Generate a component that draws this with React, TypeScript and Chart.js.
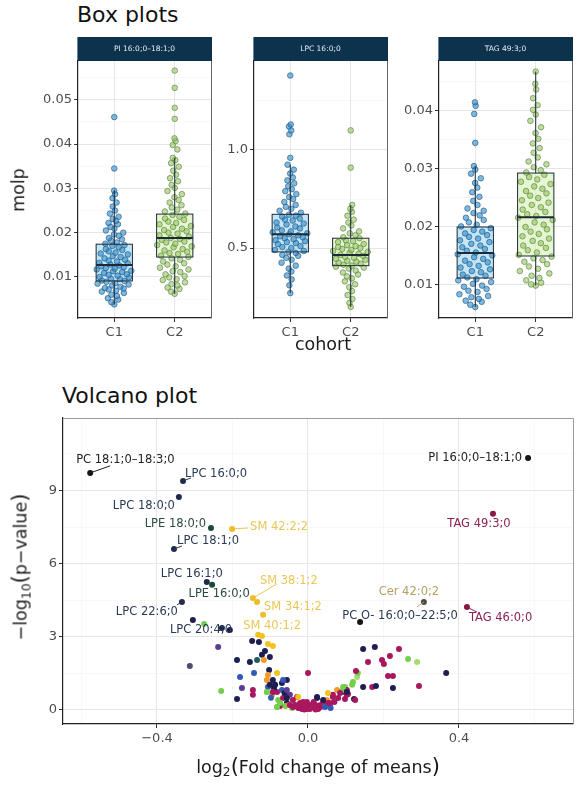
import React, { useEffect, useRef } from "react";
import { Chart, registerables } from "chart.js";
Chart.register(...registerables);

const FONT = "'DejaVu Sans', 'Liberation Sans', sans-serif";
const TICK_COLOR = "#4d4d4d";

// ---------------- Box plot data ----------------
const cohorts = ["C1", "C2"];
const stripTitles = ["PI 16:0;0–18:1;0", "LPC 16:0;0", "TAG 49:3;0"];

const p1C1 = [0.0038,0.0043,0.0049,0.0052,0.0057,0.0060,0.0064,0.0067,0.0069,0.0072,0.0074,0.0075,0.0078,0.0081,0.0083,0.0085,0.0086,0.0089,0.0091,0.0092,0.0095,0.0096,0.0099,0.0100,0.0103,0.0105,0.0106,0.0109,0.0111,0.0113,0.0114,0.0117,0.0119,0.0120,0.0122,0.0124,0.0126,0.0128,0.0131,0.0132,0.0135,0.0137,0.0139,0.0142,0.0145,0.0147,0.0151,0.0153,0.0155,0.0158,0.0161,0.0163,0.0167,0.0170,0.0172,0.0175,0.0178,0.0182,0.0185,0.0188,0.0193,0.0196,0.0200,0.0205,0.0209,0.0213,0.0219,0.0222,0.0227,0.0231,0.0236,0.0243,0.0250,0.0259,0.0268,0.0278,0.0287,0.0295,0.0345,0.0461];
const p1C2 = [0.0062,0.0067,0.0073,0.0076,0.0081,0.0084,0.0088,0.0093,0.0095,0.0099,0.0102,0.0106,0.0111,0.0113,0.0117,0.0121,0.0124,0.0128,0.0131,0.0135,0.0139,0.0142,0.0145,0.0148,0.0152,0.0154,0.0157,0.0160,0.0163,0.0167,0.0169,0.0172,0.0175,0.0178,0.0180,0.0184,0.0186,0.0188,0.0191,0.0194,0.0198,0.0200,0.0203,0.0206,0.0209,0.0213,0.0215,0.0219,0.0222,0.0225,0.0229,0.0232,0.0236,0.0240,0.0243,0.0248,0.0252,0.0257,0.0262,0.0268,0.0274,0.0280,0.0287,0.0294,0.0301,0.0308,0.0316,0.0323,0.0331,0.0340,0.0349,0.0357,0.0364,0.0369,0.0388,0.0398,0.0407,0.0413,0.0457,0.0482,0.0527,0.0566];
const p2C1 = [0.27,0.31,0.34,0.36,0.38,0.395,0.41,0.425,0.44,0.45,0.46,0.465,0.475,0.48,0.485,0.49,0.50,0.505,0.51,0.52,0.525,0.53,0.535,0.54,0.545,0.55,0.555,0.56,0.565,0.57,0.575,0.58,0.585,0.59,0.60,0.605,0.61,0.62,0.625,0.63,0.64,0.645,0.65,0.66,0.665,0.67,0.68,0.69,0.70,0.71,0.72,0.735,0.75,0.76,0.775,0.79,0.80,0.815,0.83,0.845,0.86,0.88,0.90,0.925,0.96,1.08,1.10,1.12,1.13,1.38];
const p2C2 = [0.20,0.22,0.24,0.26,0.28,0.30,0.315,0.33,0.345,0.355,0.365,0.375,0.385,0.395,0.40,0.405,0.41,0.415,0.42,0.425,0.43,0.435,0.44,0.445,0.45,0.455,0.46,0.465,0.47,0.475,0.48,0.485,0.49,0.495,0.50,0.505,0.51,0.515,0.52,0.53,0.535,0.54,0.55,0.555,0.565,0.575,0.585,0.60,0.615,0.63,0.645,0.665,0.685,0.70,0.72,0.91,1.10];
const p3C1 = [0.0062,0.0066,0.0071,0.0073,0.0076,0.0079,0.0081,0.0084,0.0088,0.0090,0.0093,0.0097,0.0099,0.0102,0.0105,0.0108,0.0110,0.0113,0.0116,0.0118,0.0122,0.0124,0.0127,0.0130,0.0133,0.0136,0.0139,0.0142,0.0145,0.0148,0.0151,0.0153,0.0156,0.0159,0.0162,0.0165,0.0168,0.0171,0.0174,0.0177,0.0180,0.0183,0.0186,0.0189,0.0192,0.0195,0.0198,0.0201,0.0204,0.0208,0.0212,0.0216,0.0220,0.0224,0.0228,0.0232,0.0238,0.0245,0.0252,0.0260,0.0268,0.0276,0.0284,0.0292,0.0299,0.0305,0.0345,0.0395,0.0409,0.0415];
const p3C2 = [0.0099,0.0101,0.0104,0.0108,0.0112,0.0116,0.0120,0.0124,0.0128,0.0132,0.0136,0.0140,0.0143,0.0146,0.0149,0.0152,0.0156,0.0160,0.0164,0.0168,0.0172,0.0176,0.0180,0.0184,0.0188,0.0192,0.0196,0.0200,0.0204,0.0208,0.0212,0.0216,0.0219,0.0222,0.0226,0.0230,0.0234,0.0238,0.0242,0.0246,0.0250,0.0254,0.0258,0.0262,0.0266,0.0270,0.0274,0.0278,0.0282,0.0286,0.0290,0.0294,0.0298,0.0303,0.0308,0.0313,0.0320,0.0328,0.0336,0.0344,0.0352,0.0362,0.0372,0.0383,0.0394,0.0402,0.0410,0.0422,0.0437,0.0447,0.0468];

// [lower whisker, Q1, median, Q3, upper whisker]
const p1C1Box = [0.0038, 0.0091, 0.0127, 0.0174, 0.0296];
const p1C2Box = [0.0062, 0.0145, 0.0188, 0.0242, 0.0369];
const p2C1Box = [0.27, 0.48, 0.57, 0.672, 0.925];
const p2C2Box = [0.20, 0.41, 0.465, 0.55, 0.72];
const p3C1Box = [0.0062, 0.0112, 0.0155, 0.0200, 0.0305];
const p3C2Box = [0.0099, 0.0150, 0.0217, 0.0293, 0.0468];

const p1MajorTicks = [0.01, 0.02, 0.03, 0.04, 0.05];
const p1MinorTicks = [0.005, 0.015, 0.025, 0.035, 0.045, 0.055];
const p2MajorTicks = [0.5, 1.0];
const p2MinorTicks = [0.25, 0.75, 1.25];
const p3MajorTicks = [0.01, 0.02, 0.03, 0.04];
const p3MinorTicks = [0.005, 0.015, 0.025, 0.035, 0.045];

// ---------------- Volcano data ----------------
const volcX = [-0.305,-0.275,-0.207,-0.132,-0.122,-0.238,-0.313,-0.230,-0.188,-0.188,-0.180,-0.175,-0.148,-0.130,-0.154,-0.135,-0.143,-0.146,-0.146,-0.114,-0.106,-0.093,-0.122,-0.117,-0.101,-0.103,-0.109,-0.093,-0.082,-0.106,-0.087,-0.069,-0.056,-0.082,-0.069,-0.095,-0.109,-0.079,-0.066,-0.082,-0.056,-0.048,-0.029,-0.021,-0.013,0.000,-0.003,0.013,0.024,0.032,0.040,0.050,0.058,0.066,0.077,0.090,0.098,0.103,-0.034,-0.026,-0.016,0.005,0.019,-0.008,-0.042,-0.074,0.093,0.103,0.098,0.106,0.122,0.119,0.130,0.132,0.127,0.146,0.146,0.159,0.177,0.170,0.180,0.196,0.201,0.217,0.225,0.212,0.225,0.241,0.265,0.289,0.294,0.366,0.010,0.027,-0.005,0.035,0.045,0.015,-0.018,0.060,-0.060,0.052,0.070,0.080,-0.040,-0.050,-0.062,-0.090,-0.098,
  -0.026,-0.013,0.005,0.024,0.040,0.053,0.066,0.085,0.093,0.103,0.117,0.125,-0.074,-0.082,-0.056,-0.048,-0.040,-0.021,-0.003,0.013,0.032,0.045,0.058,-0.093,-0.109,-0.101,-0.066,-0.106,-0.056,0.020,-0.010,0.028,-0.030,0.008,0.016,-0.006];
const volcY = [3.69,3.53,3.28,3.08,3.03,2.58,1.80,0.78,2.05,0.45,1.35,0.90,2.83,2.79,1.97,2.05,1.52,0.82,0.62,2.42,2.71,2.62,2.26,2.05,2.17,1.64,1.23,1.23,1.52,0.94,1.03,1.11,1.23,0.74,0.82,0.62,0.74,0.41,0.49,0.12,0.29,0.62,0.53,0.29,0.12,1.52,0.33,0.21,0.49,0.12,0.29,0.41,0.21,0.62,0.82,0.74,0.94,0.62,0.21,0.08,0.04,0.04,0.08,0.21,0.08,0.16,0.82,0.82,0.45,0.66,0.45,1.15,1.35,1.52,1.60,0.94,2.50,1.97,2.58,0.94,0.98,2.05,1.89,2.21,0.90,1.39,1.39,2.50,2.09,1.97,0.98,1.52,0.16,0.04,0.08,0.21,0.12,0.33,0.16,0.08,0.16,0.29,0.33,0.49,0.41,0.20,0.70,0.90,0.50,
  0.53,0.33,0.21,0.53,0.41,0.70,0.53,0.70,0.94,0.74,1.03,0.41,0.29,0.12,0.49,0.21,0.12,0.08,0.04,0.12,0.12,0.12,0.29,0.74,0.74,1.03,1.23,1.43,0.82,0.02,0.02,0.18,0.16,0.10,0.24,0.14];
const volcClass = ["nv","gr","nv","ye","ye","pu","sl","gr","nv","nv","bl","pu","nv","nv","nv","tl","bl","mr","mr","nv","ye","ye","nv","or","nv","nv","or","nv","ye","bl","nv","nv","nv","mr","bl","or","gr","gr","mr","gr","nv","pu","mr","mr","mr","mr","mr","mr","nv","mr","mr","or","bl","mr","or","nv","gr","mr","mr","mr","mr","mr","mr","mr","gr","mr","gr","mr","mr","mr","nv","gr","lg","gr","mr","nv","nv","mr","nv","mr","nv","mr","mr","mr","nv","mr","mr","mr","gr","lg","mr","nv","mr","mr","mr","mr","gr","mr","mr","bl","gr","mr","mr","mr","mr","or","nv","nv","bl",
  "ye","mr","mr","nv","nv","ye","mr","mr","gr","nv","gr","mr","gr","gr","nv","mr","mr","mr","mr","mr","mr","bl","mr","mr","gr","nv","bl","or","pu","mr","mr","mr","mr","mr","mr","mr"];

const lblNames = ["PC 18:1;0–18:3;0","LPC 16:0;0","LPC 18:0;0","LPE 18:0;0","SM 42:2;2","LPC 18:1;0","LPC 16:1;0","LPE 16:0;0","LPC 22:6;0","LPC 20:4;0","SM 38:1;2","SM 34:1;2","SM 40:1;2","Cer 42:0;2","PC O- 16:0;0–22:5;0","TAG 46:0;0","PI 16:0;0–18:1;0","TAG 49:3;0"];
const lblX = [-0.577,-0.331,-0.342,-0.257,-0.201,-0.355,-0.268,-0.254,-0.334,-0.228,-0.146,-0.135,-0.119,0.307,0.138,0.421,0.583,0.490];
const lblY = [9.72,9.39,8.73,7.46,7.42,6.60,5.25,5.13,4.43,3.36,4.59,4.43,3.90,4.43,3.61,4.22,10.33,8.04];
const lblClass = ["bk","lpc","lpc","lpe","sm","lpc","lpc","lpe","lpc","lpc","sm","sm","sm","cer","pco","tag","bk","tag"];

const volcXMajor = [-0.4, 0, 0.4];
const volcXMinor = [-0.6, -0.2, 0.2, 0.6];
const volcYMajor = [0, 3, 6, 9];
const volcYMinor = [1.5, 4.5, 7.5, 10.5];

// ---------------- styles ----------------
const POINT_COLORS: Record<string, string> = {
  nv: "#1d1f52", pu: "#5b3c97", bl: "#3557b7", mr: "#a8175f", gr: "#74cf4a",
  lg: "#a6dc72", ye: "#f2c31f", or: "#f29b2b", tl: "#1f5d5e", sl: "#4f4b6e",
  bk: "#151515", lpc: "#1f2b48", lpe: "#1b4a3b", sm: "#efbc2a", cer: "#4a4a40", tag: "#8a1846", pco: "#151515",
};
const LABEL_COLORS: Record<string, string> = {
  bk: "#222222", lpc: "#2a3a56", lpe: "#2c4a41", sm: "rgba(232,188,55,0.85)", cer: "#b5a064", tag: "#8a2352", pco: "#2a3a56",
};
// text offset (px) from point, alignment, optional leader segment
const labelLayout: { dx: number; dy: number; align: CanvasTextAlign; lx?: number; ly?: number }[] = [
  { dx: -14, dy: -13, align: "left", lx: 20, ly: -7 },
  { dx: 2, dy: -7, align: "left", lx: 8, ly: -3 },
  { dx: -4, dy: 9, align: "right" },
  { dx: -5, dy: -4, align: "right" },
  { dx: 18, dy: -2, align: "left", lx: 16, ly: -1 },
  { dx: 3, dy: -8, align: "left", lx: 8, ly: -3 },
  { dx: -15, dy: -8, align: "center" },
  { dx: 7, dy: 9, align: "center" },
  { dx: -4, dy: 10, align: "right", lx: -5, ly: 3 },
  { dx: -21, dy: 2, align: "center" },
  { dx: 7, dy: -17, align: "left", lx: 24, ly: -14 },
  { dx: 7, dy: 5, align: "left" },
  { dx: 9, dy: 11, align: "center" },
  { dx: -15, dy: -10, align: "center", lx: -7, ly: 5 },
  { dx: 40, dy: -6, align: "center" },
  { dx: 2, dy: 11, align: "left", lx: 10, ly: 5 },
  { dx: -6, dy: 0, align: "right" },
  { dx: -14, dy: 10, align: "center" },
];

const PT_FILL = ["rgba(52,140,200,0.62)", "rgba(145,196,95,0.58)"];
const PT_LINE = ["rgba(30,88,135,0.8)", "rgba(90,128,60,0.8)"];
const BOX_FILL = ["rgba(150,210,240,0.55)", "rgba(215,240,180,0.6)"];
const BOX_LINE = "#1c2a36";
const BOX_HALF = 0.3;

function vdc(n: number) {
  let v = 0, d = 1;
  while (n > 0) { d *= 2; v += (n % 2) / d; n = Math.floor(n / 2); }
  return v;
}
// quasirandom (density-scaled) horizontal placement, as in a beeswarm layout
function swarm(values: number[], range: number, maxHalf: number) {
  const h = range * 0.05;
  const counts = values.map((v) => values.filter((w) => Math.abs(w - v) < h).length);
  const maxC = Math.max(...counts);
  return values.map((v, i) => {
    const d = Math.max(0, counts[i] - 2) / Math.max(1, maxC - 2);
    return (vdc(i + 1) * 2 - 1) * maxHalf * Math.min(1, d * 1.1);
  });
}

function isIn(arr: number[], v: number) {
  return arr.some((a) => Math.abs(a - v) < 1e-9);
}

function makeYScale(min: number, max: number, major: number[], minor: number[], fmt: (v: number) => string, width: number) {
  return {
    type: "linear" as const,
    min, max,
    afterBuildTicks: (s: any) => {
      s.ticks = [...major, ...minor].sort((a, b) => a - b).map((v) => ({ value: v }));
    },
    afterFit: (s: any) => { s.width = width; },
    ticks: {
      autoSkip: false,
      padding: 2,
      color: TICK_COLOR,
      font: { family: FONT, size: 13 },
      callback: (v: any) => (isIn(major, v) ? fmt(v) : ""),
    },
    grid: {
      color: (c: any) => (c.tick && isIn(major, c.tick.value) ? "#e6e6e6" : "#f3f3f3"),
      lineWidth: (c: any) => (c.tick && isIn(major, c.tick.value) ? 1 : 0.6),
      tickColor: (c: any) => (c.tick && isIn(major, c.tick.value) ? "#333333" : "rgba(0,0,0,0)"),
      tickLength: 4,
    },
    border: { display: true, color: "#222222", width: 1.2 },
  };
}

type PanelCfg = {
  left: number; title: string; yMin: number; yMax: number;
  major: number[]; minor: number[]; dec: number;
  groups: number[][]; boxes: number[][];
};

const panels: PanelCfg[] = [
  { left: 0, title: stripTitles[0], yMin: 0.00074, yMax: 0.05876, major: p1MajorTicks, minor: p1MinorTicks, dec: 2, groups: [p1C1, p1C2], boxes: [p1C1Box, p1C2Box] },
  { left: 176, title: stripTitles[1], yMin: 0.143, yMax: 1.454, major: p2MajorTicks, minor: p2MinorTicks, dec: 1, groups: [p2C1, p2C2], boxes: [p2C1Box, p2C2Box] },
  { left: 361, title: stripTitles[2], yMin: 0.00431, yMax: 0.04862, major: p3MajorTicks, minor: p3MinorTicks, dec: 2, groups: [p3C1, p3C2], boxes: [p3C1Box, p3C2Box] },
];

function BoxPanel({ cfg }: { cfg: PanelCfg }) {
  const ref = useRef<HTMLCanvasElement>(null);
  useEffect(() => {
    const range = cfg.yMax - cfg.yMin;
    const datasets = cfg.groups.map((vals, g) => {
      const offs = swarm(vals, range, 0.3);
      return {
        data: vals.map((v, i) => ({ x: g + 1 + offs[i], y: v })),
        pointRadius: 2.8,
        backgroundColor: PT_FILL[g],
        borderColor: PT_LINE[g],
        borderWidth: 0.8,
      };
    });
    const boxPlugin = {
      id: "boxes",
      beforeDatasetsDraw(chart: any) {
        const { ctx, scales: { x, y } } = chart;
        cfg.boxes.forEach((b, g) => {
          const l = x.getPixelForValue(g + 1 - BOX_HALF), r = x.getPixelForValue(g + 1 + BOX_HALF);
          const t = y.getPixelForValue(b[3]), bt = y.getPixelForValue(b[1]);
          ctx.save();
          ctx.fillStyle = BOX_FILL[g];
          ctx.fillRect(l, t, r - l, bt - t);
          ctx.restore();
        });
      },
      afterDatasetsDraw(chart: any) {
        const { ctx, scales: { x, y } } = chart;
        cfg.boxes.forEach((b, g) => {
          const c = x.getPixelForValue(g + 1);
          const l = x.getPixelForValue(g + 1 - BOX_HALF), r = x.getPixelForValue(g + 1 + BOX_HALF);
          const [lo, q1, med, q3, hi] = b.map((v) => y.getPixelForValue(v));
          ctx.save();
          ctx.strokeStyle = BOX_LINE;
          ctx.lineWidth = 1;
          ctx.beginPath();
          ctx.moveTo(c, lo); ctx.lineTo(c, q1);
          ctx.moveTo(c, q3); ctx.lineTo(c, hi);
          ctx.stroke();
          ctx.strokeRect(l, q3, r - l, q1 - q3);
          ctx.lineWidth = 2;
          ctx.beginPath();
          ctx.moveTo(l, med); ctx.lineTo(r, med);
          ctx.stroke();
          ctx.restore();
        });
      },
      afterDraw(chart: any) {
        const { ctx, chartArea: a } = chart;
        ctx.save();
        ctx.strokeStyle = "#666666";
        ctx.lineWidth = 1;
        ctx.beginPath();
        ctx.moveTo(a.right + 0.5, a.top); ctx.lineTo(a.right + 0.5, a.bottom);
        ctx.stroke();
        ctx.fillStyle = "#0d324d";
        ctx.fillRect(a.left - 0.6, a.top - 24, a.right - a.left + 1.6, 24);
        ctx.fillStyle = "#e8eef3";
        ctx.font = `7.5px ${FONT}`;
        ctx.textAlign = "center";
        ctx.textBaseline = "middle";
        ctx.fillText(cfg.title, (a.left + a.right) / 2, a.top - 12);
        ctx.restore();
      },
    };
    const chart = new Chart(ref.current!, {
      type: "scatter",
      data: { datasets: datasets as any },
      options: {
        animation: false,
        responsive: false,
        events: [],
        layout: { padding: { top: 31, right: 5, left: 0, bottom: 0 } },
        plugins: { legend: { display: false }, tooltip: { enabled: false } },
        scales: {
          x: {
            type: "linear",
            min: 0.4, max: 2.6,
            afterBuildTicks: (s: any) => { s.ticks = [{ value: 1 }, { value: 2 }]; },
            afterFit: (s: any) => { s.height = 32; },
            ticks: {
              autoSkip: false, maxRotation: 0, padding: 3,
              color: TICK_COLOR, font: { family: FONT, size: 13 },
              callback: (_v: any, i: number) => cohorts[i],
            },
            grid: { color: "#e6e6e6", tickColor: "#333333", tickLength: 4 },
            border: { display: true, color: "#222222", width: 1.2 },
          },
          y: makeYScale(cfg.yMin, cfg.yMax, cfg.major, cfg.minor, (v) => v.toFixed(cfg.dec), 78) as any,
        },
      },
      plugins: [boxPlugin],
    });
    return () => chart.destroy();
  }, []);
  return (
    <canvas ref={ref} width={216} height={320}
      style={{ position: "absolute", left: cfg.left, top: 30, width: 216, height: 320 }} />
  );
}

function Volcano() {
  const ref = useRef<HTMLCanvasElement>(null);
  useEffect(() => {
    const labelPlugin = {
      id: "volcLabels",
      afterDatasetsDraw(chart: any) {
        const { ctx, scales: { x, y } } = chart;
        ctx.save();
        ctx.font = `11.5px ${FONT}`;
        ctx.textBaseline = "middle";
        lblNames.forEach((name, i) => {
          const px = x.getPixelForValue(lblX[i]);
          const py = y.getPixelForValue(lblY[i]);
          const L = labelLayout[i];
          const col = LABEL_COLORS[lblClass[i]];
          if (L.lx !== undefined) {
            ctx.strokeStyle = col;
            ctx.lineWidth = 1;
            ctx.beginPath();
            ctx.moveTo(px, py);
            ctx.lineTo(px + L.lx, py + (L.ly || 0));
            ctx.stroke();
          }
          ctx.fillStyle = col;
          ctx.textAlign = L.align;
          ctx.fillText(name, px + L.dx, py + L.dy);
        });
        ctx.restore();
      },
      afterDraw(chart: any) {
        const { ctx, chartArea: a } = chart;
        ctx.save();
        ctx.strokeStyle = "#9a9a9a";
        ctx.lineWidth = 1;
        ctx.beginPath();
        ctx.moveTo(a.left, a.top + 0.5); ctx.lineTo(a.right + 0.5, a.top + 0.5); ctx.lineTo(a.right + 0.5, a.bottom);
        ctx.stroke();
        ctx.restore();
      },
    };
    const fmtX = (v: number) => (v < 0 ? "−" + Math.abs(v).toFixed(1) : v.toFixed(1));
    const xScale: any = makeYScale(-0.649, 0.702, volcXMajor, volcXMinor, fmtX, 0);
    delete xScale.afterFit;
    xScale.afterFit = (s: any) => { s.height = 65; };
    xScale.ticks.padding = 3;
    xScale.ticks.maxRotation = 0;
    const chart = new Chart(ref.current!, {
      type: "scatter",
      data: {
        datasets: [
          {
            data: volcX.map((v, i) => ({ x: v, y: volcY[i] })),
            pointRadius: 3, borderWidth: 0,
            backgroundColor: volcClass.map((c) => POINT_COLORS[c]),
          },
          {
            data: lblX.map((v, i) => ({ x: v, y: lblY[i] })),
            pointRadius: 3, borderWidth: 0,
            backgroundColor: lblClass.map((c) => POINT_COLORS[c]),
          },
        ] as any,
      },
      options: {
        animation: false,
        responsive: false,
        events: [],
        layout: { padding: { top: 38, right: 7, left: 0, bottom: 0 } },
        plugins: { legend: { display: false }, tooltip: { enabled: false } },
        scales: {
          x: xScale,
          y: makeYScale(-0.574, 11.97, volcYMajor, volcYMinor, (v) => String(v), 63) as any,
        },
      },
      plugins: [labelPlugin],
    });
    return () => chart.destroy();
  }, []);
  return (
    <canvas ref={ref} width={580} height={409}
      style={{ position: "absolute", left: 0, top: 380, width: 580, height: 409 }} />
  );
}

const axisTitle: React.CSSProperties = {
  position: "absolute", fontFamily: FONT, fontSize: 17.5, color: "#1a1a1a",
  whiteSpace: "nowrap", lineHeight: 1,
};

export default function App() {
  return (
    <div style={{ position: "fixed", left: 0, top: 0, width: 580, height: 789, background: "#ffffff", overflow: "hidden" }}>
      <div style={{ position: "absolute", left: 77, top: 4, fontFamily: FONT, fontSize: 22, color: "#111", lineHeight: 1 }}>Box plots</div>
      {panels.map((p, i) => <BoxPanel key={i} cfg={p} />)}
      <div style={{ ...axisTitle, left: 19, top: 190, transform: "translate(-50%,-50%) rotate(-90deg)" }}>molp</div>
      <div style={{ ...axisTitle, left: 323, top: 345, transform: "translate(-50%,-50%)" }}>cohort</div>
      <div style={{ position: "absolute", left: 62, top: 385, fontFamily: FONT, fontSize: 22, color: "#111", lineHeight: 1 }}>Volcano plot</div>
      <Volcano />
      <div style={{ ...axisTitle, left: 21, top: 567, transform: "translate(-50%,-50%) rotate(-90deg)" }}>
        −log<sub style={{ fontSize: "0.7em", verticalAlign: "-0.3em" }}>10</sub><span style={{ fontSize: "1.2em" }}>(</span>p−value<span style={{ fontSize: "1.2em" }}>)</span>
      </div>
      <div style={{ ...axisTitle, left: 318, top: 767, transform: "translate(-50%,-50%)" }}>
        log<sub style={{ fontSize: "0.7em", verticalAlign: "-0.3em" }}>2</sub><span style={{ fontSize: "1.2em" }}>(</span>Fold change of means<span style={{ fontSize: "1.2em" }}>)</span>
      </div>
    </div>
  );
}
